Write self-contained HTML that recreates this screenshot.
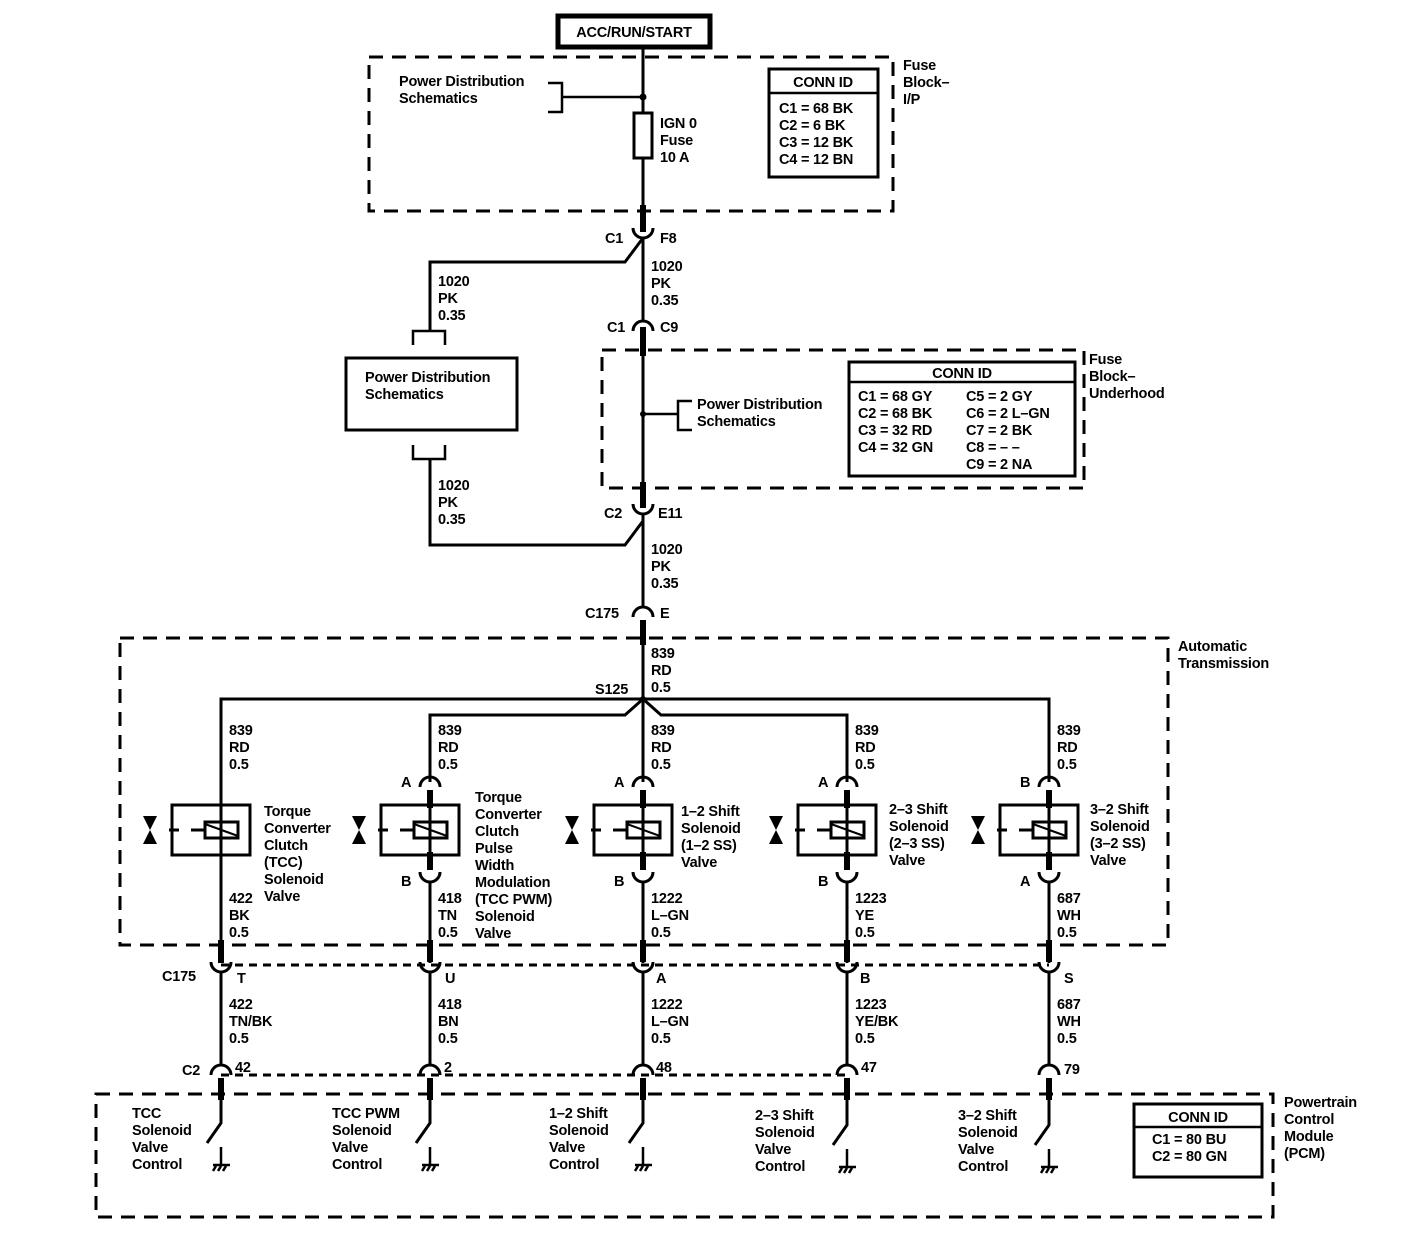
<!DOCTYPE html>
<html><head><meta charset="utf-8"><style>
html,body{margin:0;padding:0;background:#fff}
svg{display:block}
text{font-family:"Liberation Sans",Arial,sans-serif;font-size:14.5px;font-weight:bold;letter-spacing:-0.2px;fill:#000}
</style></head><body>
<svg width="1408" height="1240" viewBox="0 0 1408 1240" xmlns="http://www.w3.org/2000/svg">
<defs>
<g id="bow"><path d="M-7,-14 L7,-14 L0,0 Z M-7,14 L7,14 L0,0 Z" fill="#000"/></g>
<g id="sol" stroke="#000" fill="none">
<rect x="-49" y="-25" width="78" height="50" stroke-width="3"/>
<rect x="-16" y="-8" width="33" height="16" stroke-width="3"/>
<line x1="-16" y1="-6" x2="17" y2="6" stroke-width="2"/>
<line x1="-52" y1="0" x2="-42" y2="0" stroke-width="3"/>
<line x1="-30" y1="0" x2="-16" y2="0" stroke-width="3"/>
</g>
<g id="gnd" stroke="#000" fill="none" stroke-width="2.5">
<line x1="0" y1="0" x2="0" y2="18"/>
<line x1="-8" y1="18" x2="9" y2="18"/>
<line x1="-5" y1="19" x2="-8" y2="24"/><line x1="0" y1="19" x2="-3" y2="24"/><line x1="5" y1="19" x2="2" y2="24"/>
</g>
</defs>

<g stroke="#000" fill="none">
<rect x="369" y="57" width="524" height="154" stroke-width="3" stroke-dasharray="14,9"/>
<rect x="602" y="350" width="482" height="138" stroke-width="3" stroke-dasharray="14,9"/>
<rect x="120" y="638" width="1048" height="307" stroke-width="3" stroke-dasharray="14,9"/>
<rect x="96" y="1094" width="1177" height="123" stroke-width="3" stroke-dasharray="14,9"/>
<line x1="221" y1="965" x2="1049" y2="965" stroke-width="3" stroke-dasharray="8,6"/>
<line x1="221" y1="1075" x2="847" y2="1075" stroke-width="3" stroke-dasharray="8,6"/>

<rect x="558" y="16" width="152" height="31" stroke-width="5"/>
<line x1="643" y1="48" x2="643" y2="113" stroke-width="3"/>
<rect x="634" y="113" width="18" height="45" stroke-width="3"/>
<line x1="643" y1="158" x2="643" y2="230" stroke-width="3"/>
<line x1="643" y1="205" x2="643" y2="232" stroke-width="6"/>
<line x1="562" y1="97" x2="643" y2="97" stroke-width="2.5"/>
<path d="M548,83 H562 V112 H548" stroke-width="2.5"/>
<rect x="769" y="69" width="109" height="108" stroke-width="3"/>
<line x1="769" y1="93" x2="878" y2="93" stroke-width="2.5"/>

<path d="M633,228 A10,10 0 0 0 653,228" stroke-width="3"/>
<line x1="643" y1="238" x2="643" y2="320" stroke-width="3"/>
<path d="M643,238 L625,262 H430 V331" stroke-width="3"/>
<path d="M413,345 V331 H445 V345" stroke-width="2.5"/>
<rect x="346" y="358" width="171" height="72" stroke-width="3"/>
<path d="M413,445 V459 H445 V445" stroke-width="2.5"/>
<path d="M430,459 V545 H625 L643,521" stroke-width="3"/>
<path d="M633,331 A10,10 0 0 1 653,331" stroke-width="3"/>
<line x1="643" y1="327" x2="643" y2="356" stroke-width="6"/>
<line x1="643" y1="356" x2="643" y2="506" stroke-width="3"/>
<line x1="643" y1="414" x2="678" y2="414" stroke-width="2.5"/>
<path d="M692,401 H678 V430 H692" stroke-width="2.5"/>
<rect x="849" y="362" width="226" height="114" stroke-width="3"/>
<line x1="849" y1="382" x2="1075" y2="382" stroke-width="2.5"/>
<line x1="643" y1="482" x2="643" y2="508" stroke-width="6"/>
<path d="M633,504 A10,10 0 0 0 653,504" stroke-width="3"/>
<line x1="643" y1="514" x2="643" y2="607" stroke-width="3"/>
<path d="M633,617 A10,10 0 0 1 653,617" stroke-width="3"/>
<line x1="643" y1="620" x2="643" y2="645" stroke-width="6"/>
<line x1="643" y1="645" x2="643" y2="782" stroke-width="3"/>
<path d="M221,805 V699 H1049 V782" stroke-width="3"/>
<path d="M430,782 V715 H625 L643,699 L661,715 H847 V782" stroke-width="3"/>
<circle cx="643" cy="699" r="2.5" fill="#000"/>
<circle cx="643" cy="97" r="3.5" fill="#000" stroke="none"/>
<circle cx="643" cy="414" r="3" fill="#000" stroke="none"/>
<line x1="221" y1="805" x2="221" y2="855" stroke-width="3"/>
<line x1="221" y1="855" x2="221" y2="940" stroke-width="3"/>
<line x1="221" y1="940" x2="221" y2="963" stroke-width="6"/>
</g>

<g stroke="#000" fill="none" stroke-width="3">
<path d="M420,787 A10,10 0 0 1 440,787"/><path d="M633,787 A10,10 0 0 1 653,787"/><path d="M837,787 A10,10 0 0 1 857,787"/><path d="M1039,787 A10,10 0 0 1 1059,787"/>
<path d="M420,872 A10,10 0 0 0 440,872"/><path d="M633,872 A10,10 0 0 0 653,872"/><path d="M837,872 A10,10 0 0 0 857,872"/><path d="M1039,872 A10,10 0 0 0 1059,872"/>
<path d="M211,962 A10,10 0 0 0 231,962"/><path d="M420,962 A10,10 0 0 0 440,962"/><path d="M633,962 A10,10 0 0 0 653,962"/><path d="M837,962 A10,10 0 0 0 857,962"/><path d="M1039,962 A10,10 0 0 0 1059,962"/>
<path d="M211,1075 A10,10 0 0 1 231,1075"/><path d="M420,1075 A10,10 0 0 1 440,1075"/><path d="M633,1075 A10,10 0 0 1 653,1075"/><path d="M837,1075 A10,10 0 0 1 857,1075"/><path d="M1039,1075 A10,10 0 0 1 1059,1075"/>
</g>
<g stroke="#000" stroke-width="3">
<line x1="430" y1="790" x2="430" y2="870"/><line x1="643" y1="790" x2="643" y2="870"/><line x1="847" y1="790" x2="847" y2="870"/><line x1="1049" y1="790" x2="1049" y2="870"/>
<line x1="430" y1="790" x2="430" y2="808" stroke-width="6"/><line x1="643" y1="790" x2="643" y2="808" stroke-width="6"/><line x1="847" y1="790" x2="847" y2="808" stroke-width="6"/><line x1="1049" y1="790" x2="1049" y2="808" stroke-width="6"/>
<line x1="430" y1="852" x2="430" y2="870" stroke-width="6"/><line x1="643" y1="852" x2="643" y2="870" stroke-width="6"/><line x1="847" y1="852" x2="847" y2="870" stroke-width="6"/><line x1="1049" y1="852" x2="1049" y2="870" stroke-width="6"/>
<line x1="430" y1="882" x2="430" y2="963"/><line x1="643" y1="882" x2="643" y2="963"/><line x1="847" y1="882" x2="847" y2="963"/><line x1="1049" y1="882" x2="1049" y2="963"/>
<line x1="430" y1="940" x2="430" y2="962" stroke-width="6"/><line x1="643" y1="940" x2="643" y2="962" stroke-width="6"/><line x1="847" y1="940" x2="847" y2="962" stroke-width="6"/><line x1="1049" y1="940" x2="1049" y2="962" stroke-width="6"/>
<line x1="221" y1="972" x2="221" y2="1066"/><line x1="430" y1="972" x2="430" y2="1066"/><line x1="643" y1="972" x2="643" y2="1066"/><line x1="847" y1="972" x2="847" y2="1066"/><line x1="1049" y1="972" x2="1049" y2="1066"/>
<line x1="221" y1="1078" x2="221" y2="1100" stroke-width="6"/><line x1="430" y1="1078" x2="430" y2="1100" stroke-width="6"/><line x1="643" y1="1078" x2="643" y2="1100" stroke-width="6"/><line x1="847" y1="1078" x2="847" y2="1100" stroke-width="6"/><line x1="1049" y1="1078" x2="1049" y2="1100" stroke-width="6"/>
</g>
<g stroke="#000" stroke-width="3" fill="none">
<path d="M221,1100 V1123 L207,1143"/><path d="M430,1100 V1123 L416,1143"/><path d="M643,1100 V1123 L629,1143"/><path d="M847,1100 V1125 L833,1145"/><path d="M1049,1100 V1125 L1035,1145"/>
</g>
<use href="#gnd" x="221" y="1147"/><use href="#gnd" x="430" y="1147"/><use href="#gnd" x="643" y="1147"/><use href="#gnd" x="847" y="1149"/><use href="#gnd" x="1049" y="1149"/>
<use href="#sol" x="221" y="830"/><use href="#sol" x="430" y="830"/><use href="#sol" x="643" y="830"/><use href="#sol" x="847" y="830"/><use href="#sol" x="1049" y="830"/>
<use href="#bow" x="150" y="830"/><use href="#bow" x="359" y="830"/><use href="#bow" x="572" y="830"/><use href="#bow" x="776" y="830"/><use href="#bow" x="978" y="830"/>
<rect x="1134" y="1104" width="128" height="73" stroke="#000" stroke-width="3" fill="none"/>
<line x1="1134" y1="1127" x2="1262" y2="1127" stroke="#000" stroke-width="2.5"/>

<text x="634" y="37" text-anchor="middle" font-size="16">ACC/RUN/START</text>
<text x="399" y="86">Power Distribution</text><text x="399" y="103">Schematics</text>
<text x="660" y="128">IGN 0</text><text x="660" y="145">Fuse</text><text x="660" y="162">10 A</text>
<text x="823" y="87" text-anchor="middle">CONN ID</text>
<text x="779" y="113">C1 = 68 BK</text><text x="779" y="130">C2 = 6 BK</text><text x="779" y="147">C3 = 12 BK</text><text x="779" y="164">C4 = 12 BN</text>
<text x="903" y="70">Fuse</text><text x="903" y="87">Block–</text><text x="903" y="104">I/P</text>
<text x="605" y="243">C1</text><text x="660" y="243">F8</text>
<text x="651" y="271">1020</text><text x="651" y="288">PK</text><text x="651" y="305">0.35</text>
<text x="438" y="286">1020</text><text x="438" y="303">PK</text><text x="438" y="320">0.35</text>
<text x="365" y="382">Power Distribution</text><text x="365" y="399">Schematics</text>
<text x="438" y="490">1020</text><text x="438" y="507">PK</text><text x="438" y="524">0.35</text>
<text x="607" y="332">C1</text><text x="660" y="332">C9</text>
<text x="697" y="409">Power Distribution</text><text x="697" y="426">Schematics</text>
<text x="962" y="378" text-anchor="middle">CONN ID</text>
<text x="858" y="401">C1 = 68 GY</text><text x="858" y="418">C2 = 68 BK</text><text x="858" y="435">C3 = 32 RD</text><text x="858" y="452">C4 = 32 GN</text>
<text x="966" y="401">C5 = 2 GY</text><text x="966" y="418">C6 = 2 L–GN</text><text x="966" y="435">C7 = 2 BK</text><text x="966" y="452">C8 = – –</text><text x="966" y="469">C9 = 2 NA</text>
<text x="1089" y="364">Fuse</text><text x="1089" y="381">Block–</text><text x="1089" y="398">Underhood</text>
<text x="604" y="518">C2</text><text x="658" y="518">E11</text>
<text x="651" y="554">1020</text><text x="651" y="571">PK</text><text x="651" y="588">0.35</text>
<text x="585" y="618">C175</text><text x="660" y="618">E</text>
<text x="1178" y="651">Automatic</text><text x="1178" y="668">Transmission</text>
<text x="651" y="658">839</text><text x="651" y="675">RD</text><text x="651" y="692">0.5</text>
<text x="595" y="694">S125</text>
<text x="229" y="735">839</text><text x="229" y="752">RD</text><text x="229" y="769">0.5</text>
<text x="438" y="735">839</text><text x="438" y="752">RD</text><text x="438" y="769">0.5</text>
<text x="651" y="735">839</text><text x="651" y="752">RD</text><text x="651" y="769">0.5</text>
<text x="855" y="735">839</text><text x="855" y="752">RD</text><text x="855" y="769">0.5</text>
<text x="1057" y="735">839</text><text x="1057" y="752">RD</text><text x="1057" y="769">0.5</text>
<text x="401" y="787">A</text><text x="614" y="787">A</text><text x="818" y="787">A</text><text x="1020" y="787">B</text>
<text x="401" y="886">B</text><text x="614" y="886">B</text><text x="818" y="886">B</text><text x="1020" y="886">A</text>
<text x="264" y="816">Torque</text><text x="264" y="833">Converter</text><text x="264" y="850">Clutch</text><text x="264" y="867">(TCC)</text><text x="264" y="884">Solenoid</text><text x="264" y="901">Valve</text>
<text x="475" y="802">Torque</text><text x="475" y="819">Converter</text><text x="475" y="836">Clutch</text><text x="475" y="853">Pulse</text><text x="475" y="870">Width</text><text x="475" y="887">Modulation</text><text x="475" y="904">(TCC PWM)</text><text x="475" y="921">Solenoid</text><text x="475" y="938">Valve</text>
<text x="681" y="816">1–2 Shift</text><text x="681" y="833">Solenoid</text><text x="681" y="850">(1–2 SS)</text><text x="681" y="867">Valve</text>
<text x="889" y="814">2–3 Shift</text><text x="889" y="831">Solenoid</text><text x="889" y="848">(2–3 SS)</text><text x="889" y="865">Valve</text>
<text x="1090" y="814">3–2 Shift</text><text x="1090" y="831">Solenoid</text><text x="1090" y="848">(3–2 SS)</text><text x="1090" y="865">Valve</text>
<text x="229" y="903">422</text><text x="229" y="920">BK</text><text x="229" y="937">0.5</text>
<text x="438" y="903">418</text><text x="438" y="920">TN</text><text x="438" y="937">0.5</text>
<text x="651" y="903">1222</text><text x="651" y="920">L–GN</text><text x="651" y="937">0.5</text>
<text x="855" y="903">1223</text><text x="855" y="920">YE</text><text x="855" y="937">0.5</text>
<text x="1057" y="903">687</text><text x="1057" y="920">WH</text><text x="1057" y="937">0.5</text>
<text x="162" y="981">C175</text>
<text x="237" y="983">T</text><text x="445" y="983">U</text><text x="656" y="983">A</text><text x="860" y="983">B</text><text x="1064" y="983">S</text>
<text x="229" y="1009">422</text><text x="229" y="1026">TN/BK</text><text x="229" y="1043">0.5</text>
<text x="438" y="1009">418</text><text x="438" y="1026">BN</text><text x="438" y="1043">0.5</text>
<text x="651" y="1009">1222</text><text x="651" y="1026">L–GN</text><text x="651" y="1043">0.5</text>
<text x="855" y="1009">1223</text><text x="855" y="1026">YE/BK</text><text x="855" y="1043">0.5</text>
<text x="1057" y="1009">687</text><text x="1057" y="1026">WH</text><text x="1057" y="1043">0.5</text>
<text x="182" y="1075">C2</text>
<text x="235" y="1072">42</text><text x="444" y="1072">2</text><text x="656" y="1072">48</text><text x="861" y="1072">47</text><text x="1064" y="1074">79</text>
<text x="132" y="1118">TCC</text><text x="132" y="1135">Solenoid</text><text x="132" y="1152">Valve</text><text x="132" y="1169">Control</text>
<text x="332" y="1118">TCC PWM</text><text x="332" y="1135">Solenoid</text><text x="332" y="1152">Valve</text><text x="332" y="1169">Control</text>
<text x="549" y="1118">1–2 Shift</text><text x="549" y="1135">Solenoid</text><text x="549" y="1152">Valve</text><text x="549" y="1169">Control</text>
<text x="755" y="1120">2–3 Shift</text><text x="755" y="1137">Solenoid</text><text x="755" y="1154">Valve</text><text x="755" y="1171">Control</text>
<text x="958" y="1120">3–2 Shift</text><text x="958" y="1137">Solenoid</text><text x="958" y="1154">Valve</text><text x="958" y="1171">Control</text>
<text x="1198" y="1122" text-anchor="middle">CONN ID</text>
<text x="1152" y="1144">C1 = 80 BU</text><text x="1152" y="1161">C2 = 80 GN</text>
<text x="1284" y="1107">Powertrain</text><text x="1284" y="1124">Control</text><text x="1284" y="1141">Module</text><text x="1284" y="1158">(PCM)</text>
</svg>
</body></html>
